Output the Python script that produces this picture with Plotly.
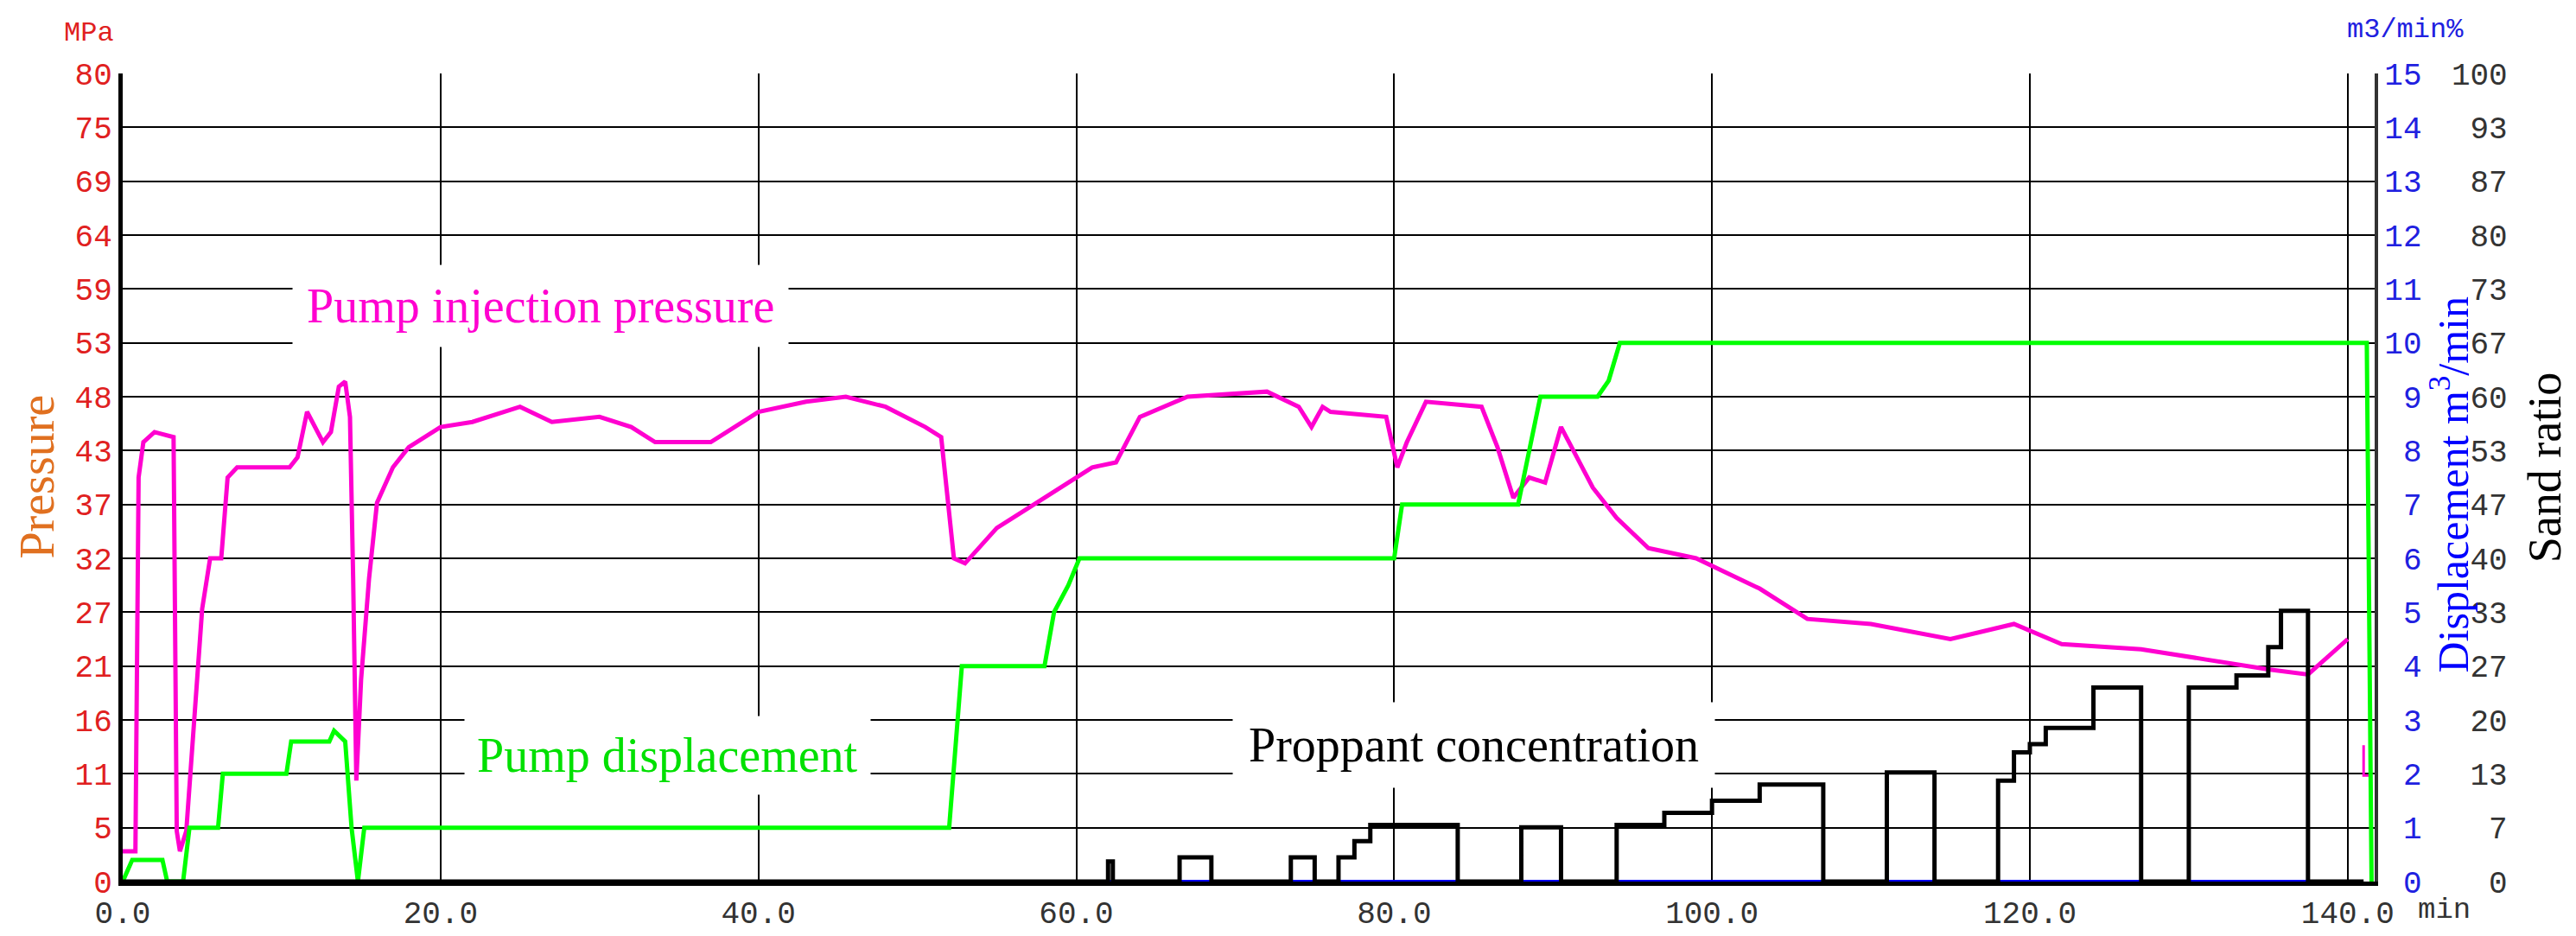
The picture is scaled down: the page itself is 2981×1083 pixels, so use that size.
import plotly.graph_objects as go

# Pump injection pressure (MPa)
p_t = [0, 0.8, 1.0, 1.3, 2.0, 3.2, 3.4, 3.6, 4.0, 4.5, 5.0, 5.5, 6.2, 6.6, 7.2, 10.5, 11.0, 11.6, 12.1, 12.6, 13.1, 13.6, 14.0, 14.3, 14.5, 14.7, 15.0, 15.5, 16.0, 17.0, 18.0, 19.0, 20.0, 22.0, 25.0, 27.0, 30.0, 32.0, 33.5, 37.0, 40.0, 43.0, 45.5, 48.0, 50.5, 51.5, 52.3, 53.0, 55.0, 57.0, 59.0, 61.0, 62.5, 64.0, 67.0, 72.0, 74.0, 74.8, 75.5, 76.0, 79.5, 80.2, 80.8, 82.0, 85.5, 86.5, 87.5, 88.5, 89.5, 90.5, 91.5, 92.5, 94.0, 96.0, 99.0, 103.0, 106.0, 110.0, 115.0, 119.0, 122.0, 127.0, 131.0, 135.0, 137.5, 140.0]
p_v = [3, 3, 40, 43.5, 44.5, 44, 5, 3, 5, 16, 27, 32, 32, 40, 41, 41, 42, 46.5, 45, 43.5, 44.5, 49, 49.5, 46, 30, 10, 20, 30, 37.5, 41, 43, 44, 45, 45.5, 47, 45.5, 46, 45, 43.5, 43.5, 46.5, 47.5, 48, 47, 45, 44, 32, 31.5, 35, 37, 39, 41, 41.5, 46, 48, 48.5, 47, 45, 47, 46.5, 46, 41, 43.5, 47.5, 47, 43, 38, 40, 39.5, 45, 42, 39, 36, 33, 32, 29, 26, 25.5, 24, 25.5, 23.5, 23, 22, 21, 20.5, 24]

# Pump displacement (m3/min)
d_t = [0, 0.3, 0.6, 2.5, 2.8, 3.8, 4.2, 6.0, 6.3, 10.3, 10.6, 13.0, 13.3, 14.0, 14.4, 14.8, 15.2, 52.0, 52.8, 58.0, 58.6, 59.5, 60.2, 80.0, 80.5, 87.8, 88.5, 89.2, 92.8, 93.5, 94.2, 141.2, 141.5]
d_v = [0, 0.2, 0.4, 0.4, 0, 0, 1, 1, 2, 2, 2.6, 2.6, 2.8, 2.6, 1, 0, 1, 1, 4, 4, 5, 5.5, 6, 6, 7, 7, 8, 9, 9, 9.3, 10, 10, 0]

# Sand ratio (%)
s_t = [0, 62.0, 62.0, 62.3, 62.3, 66.5, 66.5, 68.5, 68.5, 73.5, 73.5, 75.0, 75.0, 76.5, 76.5, 77.5, 77.5, 78.5, 78.5, 84.0, 84.0, 88.0, 88.0, 90.5, 90.5, 94.0, 94.0, 97.0, 97.0, 100.0, 100.0, 103.0, 103.0, 107.0, 107.0, 111.0, 111.0, 114.0, 114.0, 118.0, 118.0, 119.0, 119.0, 120.0, 120.0, 121.0, 121.0, 124.0, 124.0, 127.0, 127.0, 130.0, 130.0, 133.0, 133.0, 135.0, 135.0, 135.8, 135.8, 137.5, 137.5, 141.0]
s_v = [0, 0, 2.5, 2.5, 0, 0, 3, 3, 0, 0, 3, 3, 0, 0, 3, 3, 5, 5, 7, 7, 0, 0, 6.7, 6.7, 0, 0, 7, 7, 8.5, 8.5, 10, 10, 12, 12, 0, 0, 13.5, 13.5, 0, 0, 12.5, 12.5, 16, 16, 17, 17, 19, 19, 24, 24, 0, 0, 24, 24, 25.5, 25.5, 29, 29, 33.5, 33.5, 0, 0]

blue_t = [0, 137.5]
blue_v = [0, 0]

p_ticks = [0, 5, 11, 16, 21, 27, 32, 37, 43, 48, 53, 59, 64, 69, 75, 80]
d_ticks = list(range(16))
s_ticks = [0, 7, 13, 20, 27, 33, 40, 47, 53, 60, 67, 73, 80, 87, 93, 100]

NB = "\u00a0"

fig = go.Figure()
fig.add_trace(go.Scatter(x=blue_t, y=blue_v, yaxis="y2", mode="lines", line=dict(color="#0000ff", width=4)))
fig.add_trace(go.Scatter(x=d_t, y=d_v, yaxis="y2", mode="lines", line=dict(color="#00ff00", width=5)))
fig.add_trace(go.Scatter(x=s_t, y=s_v, yaxis="y3", mode="lines", line=dict(color="#000000", width=5)))
fig.add_trace(go.Scatter(x=p_t, y=p_v, mode="lines", line=dict(color="#ff00d0", width=5)))
fig.add_trace(go.Scatter(x=[141.0, 141.0, 141.4], y=[13.5, 10.5, 10.5], mode="lines", line=dict(color="#ff00d0", width=3)))

mono = "Liberation Mono"
serif = "Liberation Serif"
L, R, T, B = 134, 2754, 77, 1026
PW = 2981 - L - 20
dom_end = (R - L) / PW

fig.update_layout(
    width=2981, height=1083, showlegend=False,
    paper_bgcolor="white", plot_bgcolor="white",
    margin=dict(l=L, r=20, t=T, b=1083 - B),
    xaxis=dict(domain=[0, dom_end], range=[0, 141.7], tickvals=[0, 20, 40, 60, 80, 100, 120, 140],
               ticktext=["0.0", "20.0", "40.0", "60.0", "80.0", "100.0", "120.0", "140.0"],
               showgrid=True, gridcolor="black", gridwidth=2, zeroline=False,
               showline=True, linecolor="black", linewidth=5,
               tickfont=dict(family=mono, size=36, color="#333"), ticks=""),
    yaxis=dict(range=[0, 80], tickvals=[k * 80 / 15 for k in range(16)], ticktext=[str(v) for v in p_ticks],
               showgrid=True, gridcolor="black", gridwidth=2, zeroline=False,
               showline=True, linecolor="black", linewidth=5,
               tickfont=dict(family=mono, size=36, color="#e02020"), ticks=""),
    yaxis2=dict(range=[0, 15], overlaying="y", side="right", anchor="x", tickvals=d_ticks,
                ticktext=[str(v).rjust(2, NB) for v in d_ticks],
                showgrid=False, zeroline=False, showline=True, linecolor="#333", linewidth=4,
                tickfont=dict(family=mono, size=36, color="#2020e0"), ticks=""),
    yaxis3=dict(range=[0, 100], overlaying="y", side="right", anchor="free", position=0.958,
                tickvals=[k * 100 / 15 for k in range(16)], ticktext=[str(v).rjust(3, NB) for v in s_ticks],
                showgrid=False, zeroline=False, showline=False,
                tickfont=dict(family=mono, size=36, color="#333"), ticks=""),
)

def px(x):
    return (x - L) / PW

def py(y):
    return (B - y) / (B - T)

data_anns = [
    dict(x=26.3, y=57, text="Pump injection pressure", font=dict(family=serif, size=56, color="#ff00d0"), borderpad=16),
    dict(x=34.3, y=12.5, text="Pump displacement", font=dict(family=serif, size=56, color="#00e000"), borderpad=14),
    dict(x=85, y=13.5, text="Proppant concentration", font=dict(family=serif, size=56, color="black"), borderpad=18),
]
for a in data_anns:
    fig.add_annotation(xref="x", yref="y", showarrow=False, bgcolor="white", **a)

paper_anns = [
    dict(x=34, y=551, text="Pressure", textangle=-90, font=dict(family=serif, size=56, color="#e07020")),
    dict(x=2842, y=560, text="Displacement m<sup>3</sup>/min", textangle=-90, font=dict(family=serif, size=50, color="#0000ff")),
    dict(x=2952, y=540, text="Sand ratio", textangle=-90, font=dict(family=serif, size=54, color="black")),
    dict(x=95, y=30, text="MPa", font=dict(family=mono, size=32, color="#e02020")),
    dict(x=2790, y=26, text="m3/min%", font=dict(family=mono, size=32, color="#2020e0")),
    dict(x=2835, y=1060, text="min", font=dict(family=mono, size=34, color="#333")),
]
for a in paper_anns:
    a["x"] = px(a["x"]); a["y"] = py(a["y"])
    fig.add_annotation(xref="paper", yref="paper", showarrow=False, xanchor="center", yanchor="middle", **a)

fig.write_html("out.html")
